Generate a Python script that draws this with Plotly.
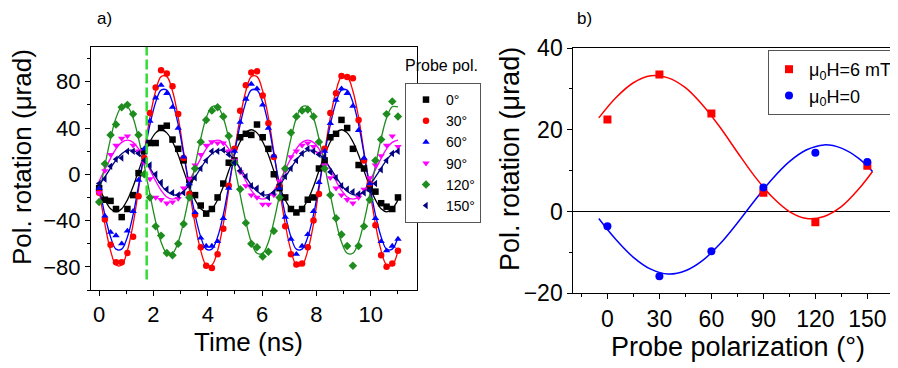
import plotly.graph_objects as go

# ---------------- Panel a) data ----------------
time_ns = [0.00, 0.21, 0.42, 0.62, 0.83, 1.04, 1.25, 1.45, 1.66, 1.87, 2.08, 2.28, 2.49, 2.70, 2.91, 3.11,
           3.32, 3.53, 3.74, 3.94, 4.15, 4.36, 4.57, 4.77, 4.98, 5.19, 5.40, 5.60, 5.81, 6.02, 6.23, 6.43,
           6.64, 6.85, 7.06, 7.26, 7.47, 7.68, 7.89, 8.09, 8.30, 8.51, 8.72, 8.92, 9.13, 9.34, 9.55, 9.75,
           9.96, 10.17, 10.38, 10.58, 10.79, 11.00]

pol_0 = [-12, -22, -23, -30, -37, -30, -18, 1, 20, 27, 27, 40, 42, 30, 22, 12,
         -5, -18, -27, -34, -30, -20, -8, 10, 12, 32, 35, 34, 43, 32, 22, 0,
         -12, -20, -30, -33, -30, -22, -20, 5, 12, 32, 35, 47, 40, 22, 8, 5,
         -12, -15, -25, -28, -30, -20]
pol_30 = [-16, -39, -61, -76, -76, -68, -54, -19, 14, 53, 75, 90, 87, 76, 52, 14,
          -17, -35, -63, -79, -81, -69, -47, -10, 22, 55, 77, 88, 89, 68, 44, 15,
          -10, -45, -69, -78, -77, -63, -40, -17, 22, 53, 70, 85, 84, 83, 47, 12,
          -8, -44, -70, -80, -77, -66]
pol_60 = [-12, -36, -50, -53, -60, -49, -32, -5, 22, 46, 66, 77, 70, 58, 40, 15,
          -8, -33, -55, -62, -62, -58, -38, -12, 20, 45, 65, 78, 74, 60, 40, 16,
          -12, -37, -56, -69, -62, -52, -32, -7, 20, 44, 64, 74, 70, 59, 38, 14,
          -8, -38, -58, -66, -62, -56]
pol_90 = [-16, 3, 17, 25, 31, 33, 25, 20, 10, -4, -20, -22, -25, -24, -21, -12,
          -4, 8, 17, 25, 28, 27, 27, 20, 12, 2, -10, -18, -20, -26, -26, -18,
          -6, 3, 15, 20, 25, 27, 24, 18, 8, -3, -12, -18, -22, -25, -20, -13,
          -3, 8, 16, 25, 33, 24]
pol_120 = [-24, 9, 34, 43, 58, 60, 52, 34, 0, -20, -45, -53, -68, -70, -60, -43,
           -20, 5, 28, 47, 55, 58, 50, 33, 10, -13, -42, -60, -63, -71, -67, -49,
           -20, 5, 36, 50, 55, 56, 50, 28, 5, -18, -38, -52, -62, -79, -62, -45,
           -22, 12, 30, 52, 63, 50]
pol_150 = [-8, -4, 7, 13, 14, 20, 20, 18, 12, 8, 0, -7, -13, -16, -18, -16,
           -10, -3, 5, 12, 20, 20, 21, 17, 10, 3, -2, -10, -12, -17, -20, -16,
           -9, -2, 5, 12, 18, 22, 20, 17, 15, 2, -3, -10, -13, -15, -17, -16,
           -14, -8, 4, 12, 18, 20]

fit_0 = [-10.6, -22.1, -29.8, -32.5, -29.8, -22.1, -10.6, 3.0, 16.6, 28.1, 35.8, 38.5, 35.8, 28.1, 16.6, 3.0,
         -10.6, -22.1, -29.8, -32.5, -29.8, -22.1, -10.6, 3.0, 16.6, 28.1, 35.8, 38.5, 35.8, 28.1, 16.6, 3.0,
         -10.6, -22.1, -29.8, -32.5, -29.8, -22.1, -10.6, 3.0, 16.6, 28.1, 35.8, 38.5, 35.8, 28.1, 16.6, 3.0,
         -10.6, -22.1, -29.8, -32.5, -29.8, -22.1]
fit_30 = [-13.2, -43.1, -66.0, -78.4, -78.4, -66.0, -43.1, -13.2, 19.2, 49.1, 72.0, 84.4, 84.4, 72.0, 49.1, 19.2,
          -13.2, -43.1, -66.0, -78.4, -78.4, -66.0, -43.1, -13.2, 19.2, 49.1, 72.0, 84.4, 84.4, 72.0, 49.1, 19.2,
          -13.2, -43.1, -66.0, -78.4, -78.4, -66.0, -43.1, -13.2, 19.2, 49.1, 72.0, 84.4, 84.4, 72.0, 49.1, 19.2,
          -13.2, -43.1, -66.0, -78.4, -78.4, -66.0]
fit_60 = [-9.7, -34.9, -54.2, -64.7, -64.7, -54.2, -34.9, -9.7, 17.7, 42.9, 62.2, 72.7, 72.7, 62.2, 42.9, 17.7,
          -9.7, -34.9, -54.2, -64.7, -64.7, -54.2, -34.9, -9.7, 17.7, 42.9, 62.2, 72.7, 72.7, 62.2, 42.9, 17.7,
          -9.7, -34.9, -54.2, -64.7, -64.7, -54.2, -34.9, -9.7, 17.7, 42.9, 62.2, 72.7, 72.7, 62.2, 42.9, 17.7,
          -9.7, -34.9, -54.2, -64.7, -64.7, -54.2]
fit_90 = [-5.8, 4.0, 13.8, 22.0, 27.6, 29.5, 27.6, 22.0, 13.8, 4.0, -5.8, -14.0, -19.6, -21.5, -19.6, -14.0,
          -5.8, 4.0, 13.8, 22.0, 27.6, 29.5, 27.6, 22.0, 13.8, 4.0, -5.8, -14.0, -19.6, -21.5, -19.6, -14.0,
          -5.8, 4.0, 13.8, 22.0, 27.6, 29.5, 27.6, 22.0, 13.8, 4.0, -5.8, -14.0, -19.6, -21.5, -19.6, -14.0,
          -5.8, 4.0, 13.8, 22.0, 27.6, 29.5]
fit_120 = [-17.6, 7.6, 30.9, 48.6, 58.3, 58.3, 48.6, 30.9, 7.6, -17.6, -40.9, -58.6, -68.3, -68.3, -58.6, -40.9,
           -17.6, 7.6, 30.9, 48.6, 58.3, 58.3, 48.6, 30.9, 7.6, -17.6, -40.9, -58.6, -68.3, -68.3, -58.6, -40.9,
           -17.6, 7.6, 30.9, 48.6, 58.3, 58.3, 48.6, 30.9, 7.6, -17.6, -40.9, -58.6, -68.3, -68.3, -58.6, -40.9,
           -17.6, 7.6, 30.9, 48.6, 58.3, 58.3]
fit_150 = [-9.3, -2.3, 5.3, 12.3, 17.7, 20.6, 20.6, 17.7, 12.3, 5.3, -2.3, -9.3, -14.7, -17.6, -17.6, -14.7,
           -9.3, -2.3, 5.3, 12.3, 17.7, 20.6, 20.6, 17.7, 12.3, 5.3, -2.3, -9.3, -14.7, -17.6, -17.6, -14.7,
           -9.3, -2.3, 5.3, 12.3, 17.7, 20.6, 20.6, 17.7, 12.3, 5.3, -2.3, -9.3, -14.7, -17.6, -17.6, -14.7,
           -9.3, -2.3, 5.3, 12.3, 17.7, 20.6]

series_names = ["0°", "30°", "60°", "90°", "120°", "150°"]
marker_time = 1.75
marker_line_span = [-91, 110]

# ---------------- Panel b) data ----------------
pol_angles = [0, 30, 60, 90, 120, 150]
rot_6mT = [22.5, 33.5, 24.0, 4.6, -2.6, 11.2]
rot_0mT = [-3.6, -15.8, -9.7, 5.9, 14.4, 12.1]
fit_angles = [-5, 5, 15, 25, 35, 45, 55, 65, 75, 85, 95, 105, 115, 125, 135, 145, 153]
fit_6mT = [22.9, 27.9, 31.5, 33.2, 32.7, 30.3, 26.0, 20.6, 14.5, 8.6, 3.6, 0.0, -1.7, -1.2, 1.2, 5.5, 9.8]
fit_0mT = [-1.7, -6.9, -11.2, -14.1, -15.3, -14.5, -11.95, -7.9, -2.8, 2.7, 7.9, 12.2, 15.1, 16.3, 15.5, 13.0, 9.8]

FONT = "Arial, 'Liberation Sans', Helvetica, sans-serif"
# the page body has an 8px margin: the figure is placed at (8, 8) in the 898x368 window
OFF = 8
W, H = 898 - OFF, 368 - OFF


def px(sx):
    return (sx - OFF) / W


def py(sy):
    return 1 - (sy - OFF) / H


colors = ["#000000", "#ff0000", "#0000ff", "#ff00ff", "#1e8c1e", "#000080"]
symbols = ["square", "circle", "triangle-up", "triangle-down", "diamond", "triangle-left"]
data_a = [pol_0, pol_30, pol_60, pol_90, pol_120, pol_150]
fits_a = [fit_0, fit_30, fit_60, fit_90, fit_120, fit_150]

fig = go.Figure()

for name, col, sym, ys, fy in zip(series_names, colors, symbols, data_a, fits_a):
    fig.add_trace(go.Scatter(x=time_ns, y=fy, mode="lines", line=dict(color=col, width=1.3, shape="spline"),
                             showlegend=False, xaxis="x", yaxis="y", hoverinfo="skip"))
for name, col, sym, ys, fy in zip(series_names, colors, symbols, data_a, fits_a):
    fig.add_trace(go.Scatter(x=time_ns, y=ys, mode="markers", name=name,
                             marker=dict(color=col, symbol=sym, size=6.5, line=dict(width=0)),
                             xaxis="x", yaxis="y", legend="legend"))

# Panel b
fig.add_trace(go.Scatter(x=fit_angles, y=fit_6mT, mode="lines", line=dict(color="#ff0000", width=1.5, shape="spline"),
                         showlegend=False, xaxis="x2", yaxis="y2"))
fig.add_trace(go.Scatter(x=fit_angles, y=fit_0mT, mode="lines", line=dict(color="#0000ff", width=1.5, shape="spline"),
                         showlegend=False, xaxis="x2", yaxis="y2"))
fig.add_trace(go.Scatter(x=pol_angles, y=rot_6mT, mode="markers", name="μ<sub>0</sub>H=6 mT",
                         marker=dict(color="#ff0000", symbol="square", size=8, line=dict(width=0)),
                         xaxis="x2", yaxis="y2", legend="legend2"))
fig.add_trace(go.Scatter(x=pol_angles, y=rot_0mT, mode="markers", name="μ<sub>0</sub>H=0",
                         marker=dict(color="#0000ff", symbol="circle", size=8, line=dict(width=0)),
                         xaxis="x2", yaxis="y2", legend="legend2"))

# dashed marker line in panel a
fig.add_shape(type="line", xref="x", yref="y", x0=marker_time, x1=marker_time,
              y0=marker_line_span[0], y1=marker_line_span[1],
              line=dict(color="#33dd33", width=2.5, dash="10px,4px"))

axis_common = dict(showline=True, linecolor="black", linewidth=1, ticks="outside", ticklen=5,
                   tickcolor="black", showgrid=False, automargin=False)

fig.update_layout(
    width=W, height=H,
    margin=dict(l=0, r=0, t=0, b=0, autoexpand=False),
    paper_bgcolor="white", plot_bgcolor="white",
    font=dict(family=FONT, color="black"),
    xaxis=dict(domain=[px(91), px(417)], range=[-0.3, 11.7], tick0=0, dtick=2, mirror=True,
               tickfont=dict(size=22), anchor="y", zeroline=False,
               minor=dict(dtick=1, tick0=0, ticks="outside", ticklen=3, tickcolor="black"), **axis_common),
    yaxis=dict(domain=[py(290), py(47)], range=[-100, 110], tick0=0, dtick=40, mirror=True,
               tickfont=dict(size=22), anchor="x", zeroline=False,
               minor=dict(dtick=20, tick0=0, ticks="outside", ticklen=3, tickcolor="black"), **axis_common),
    xaxis2=dict(domain=[px(573.3), 1.0], range=[-19.7, 167.7], tick0=0, dtick=30, mirror=True,
                tickfont=dict(size=23), anchor="y2", zeroline=False,
                minor=dict(dtick=15, tick0=0, ticks="outside", ticklen=3, tickcolor="black"), **axis_common),
    yaxis2=dict(domain=[py(293.3), py(48)], range=[-20, 40], tick0=0, dtick=20, mirror=False,
                tickfont=dict(size=23), anchor="x2",
                minor=dict(dtick=10, tick0=0, ticks="outside", ticklen=3, tickcolor="black"),
                zeroline=True, zerolinecolor="black", zerolinewidth=1, **axis_common),
    legend=dict(x=px(405), y=py(83), xanchor="left", yanchor="top", bgcolor="white",
                bordercolor="#555555", borderwidth=1, font=dict(size=14, family=FONT),
                itemwidth=30, tracegroupgap=0),
    legend2=dict(x=px(768), y=py(50), xanchor="left", yanchor="top", bgcolor="white",
                 bordercolor="#555555", borderwidth=1, font=dict(size=18, family=FONT),
                 itemwidth=30, tracegroupgap=0),
    annotations=[
        dict(text="a)", x=px(96), y=1.0, xref="paper", yref="paper", xanchor="left", yanchor="top",
             showarrow=False, font=dict(size=17), borderpad=0),
        dict(text="b)", x=px(576), y=1.0, xref="paper", yref="paper", xanchor="left", yanchor="top",
             showarrow=False, font=dict(size=17), borderpad=0),
        dict(text="Probe pol.", x=px(403), y=py(65), xref="paper", yref="paper", xanchor="left",
             yanchor="middle", showarrow=False, font=dict(size=16)),
        dict(text="Pol. rotation (μrad)", x=px(22), y=py(157), xref="paper", yref="paper", textangle=-90,
             xanchor="center", yanchor="middle", showarrow=False, font=dict(size=26)),
        dict(text="Time (ns)", x=px(248), y=py(342), xref="paper", yref="paper",
             xanchor="center", yanchor="middle", showarrow=False, font=dict(size=26)),
        dict(text="Pol. rotation (μrad)", x=px(510), y=py(159), xref="paper", yref="paper", textangle=-90,
             xanchor="center", yanchor="middle", showarrow=False, font=dict(size=27)),
        dict(text="Probe polarization (°)", x=px(738), y=py(347), xref="paper", yref="paper",
             xanchor="center", yanchor="middle", showarrow=False, font=dict(size=27)),
    ],
)

fig.write_html("out.html", config={"displayModeBar": False})
